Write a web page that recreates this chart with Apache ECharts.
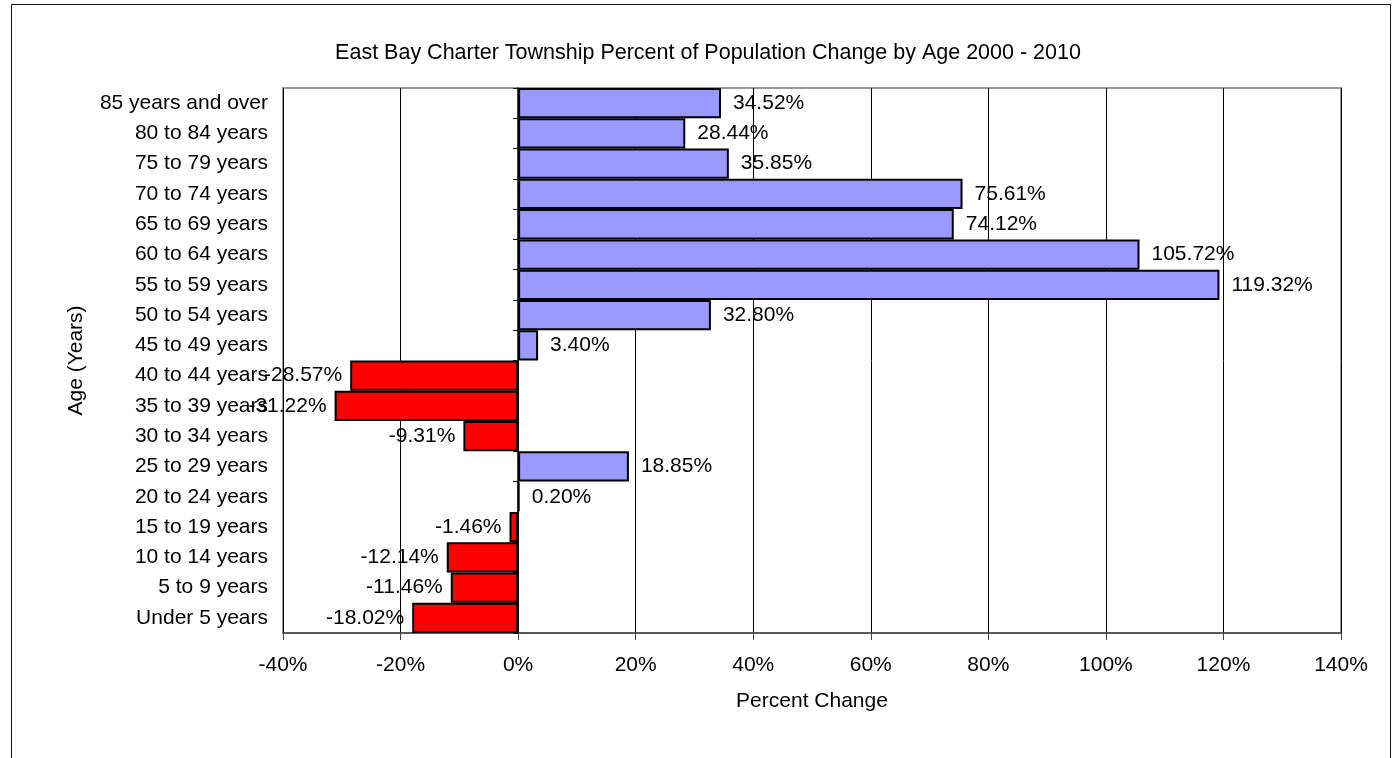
<!DOCTYPE html>
<html>
<head>
<meta charset="utf-8">
<script src="https://cdn.jsdelivr.net/npm/echarts@6/dist/echarts.min.js"></script>
<style>
  html, body { margin: 0; padding: 0; background: #fff; }
  #chart { width: 1395px; height: 758px; }
</style>
</head>
<body>
<div id="chart"></div>
<script>
(function () {
  // age groups, bottom to top
  var ageGroups = [
    "Under 5 years", "5 to 9 years", "10 to 14 years", "15 to 19 years",
    "20 to 24 years", "25 to 29 years", "30 to 34 years", "35 to 39 years",
    "40 to 44 years", "45 to 49 years", "50 to 54 years", "55 to 59 years",
    "60 to 64 years", "65 to 69 years", "70 to 74 years", "75 to 79 years",
    "80 to 84 years", "85 years and over"
  ];
  // percent change 2000 - 2010
  var pctChange = [
    -18.02, -11.46, -12.14, -1.46,
    0.2, 18.85, -9.31, -31.22,
    -28.57, 3.4, 32.8, 119.32,
    105.72, 74.12, 75.61, 35.85,
    28.44, 34.52
  ];

  var font = "Arial, 'Liberation Sans', sans-serif";
  var myChart = echarts.init(document.getElementById("chart"));

  var barData = pctChange.map(function (v) {
    return {
      value: v,
      itemStyle: { color: v < 0 ? "#ff0000" : "#9999ff" },
      label: { position: v < 0 ? "left" : "right", distance: v < 0 ? 8 : 12 }
    };
  });

  var option = {
    animation: false,
    backgroundColor: "#fff",
    graphic: [{
      type: "rect",
      shape: { x: 11.5, y: 4.5, width: 1379, height: 800 },
      style: { fill: "none", stroke: "#111", lineWidth: 1 },
      z: -10
    }],
    title: {
      text: "East Bay Charter Township Percent of Population Change by Age 2000 - 2010",
      left: 703,
      top: 37,
      textAlign: "center",
      textStyle: { fontFamily: font, fontSize: 21.5, fontWeight: "normal", color: "#000" }
    },
    grid: {
      left: 283, right: 54, top: 88, bottom: 125,
      show: true, borderColor: "#999", borderWidth: 2, backgroundColor: "#fff"
    },
    xAxis: {
      type: "value",
      min: -40, max: 140, interval: 20,
      name: "Percent Change",
      nameLocation: "middle",
      nameGap: 58,
      nameTextStyle: { fontFamily: font, fontSize: 21, color: "#000" },
      axisLine: { show: true, onZero: false, lineStyle: { color: "#444", width: 1.5 } },
      axisTick: { show: true, length: 7, lineStyle: { color: "#444" } },
      axisLabel: { formatter: "{value}%", margin: 22, fontFamily: font, fontSize: 21, color: "#000" },
      splitLine: { show: true, lineStyle: { color: "#000", width: 1 } }
    },
    yAxis: [
      {
        type: "category",
        data: ageGroups,
        position: "left",
        name: "Age (Years)",
        nameLocation: "middle",
        nameGap: 196,
        nameTextStyle: { fontFamily: font, fontSize: 21, color: "#000" },
        axisLine: { show: false, onZero: false },
        axisTick: { show: false },
        axisLabel: { margin: 15, fontFamily: font, fontSize: 21, color: "#000" }
      },
      {
        type: "category",
        data: ageGroups,
        position: "left",
        axisLine: { show: true, onZero: true, lineStyle: { color: "#000", width: 1.5 } },
        axisTick: { show: true, length: 5, lineStyle: { color: "#000" } },
        axisLabel: { show: false }
      }
    ],
    series: [{
      type: "bar",
      yAxisIndex: 0,
      barCategoryGap: "0%",
      itemStyle: { borderColor: "#000", borderWidth: 2 },
      label: {
        show: true,
        fontFamily: font,
        fontSize: 21,
        color: "#000",
        formatter: function (p) { return p.value.toFixed(2) + "%"; }
      },
      data: barData,
      z: 3
    }]
  };
  myChart.setOption(option);
  window.addEventListener("resize", function () {
    myChart.resize();
  });
})();
</script>
</body>
</html>
